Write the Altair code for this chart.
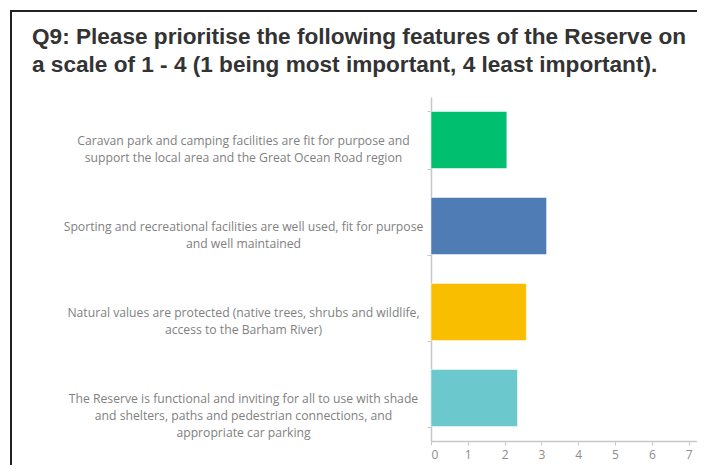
import altair as alt
import pandas as pd

categories = [
    "Caravan park and camping facilities are fit for purpose and|support the local area and the Great Ocean Road region",
    "Sporting and recreational facilities are well used, fit for purpose|and well maintained",
    "Natural values are protected (native trees, shrubs and wildlife,|access to the Barham River)",
    "The Reserve is functional and inviting for all to use with shade|and shelters, paths and pedestrian connections, and|appropriate car parking",
]
values = [2.06, 3.14, 2.59, 2.35]
colors = ["#00BF6F", "#507CB6", "#F9BE00", "#6BC8CD"]
x_ticks = [0, 1, 2, 3, 4, 5, 6, 7]
title_lines = [
    "Q9: Please prioritise the following features of the Reserve on",
    "a scale of 1 - 4 (1 being most important, 4 least important).",
]

df = pd.DataFrame({"feature": categories, "score": values, "color": colors})

PLOT_W = 266
PLOT_H = 344

bars = alt.Chart(df).mark_bar(stroke="#ffffff", strokeOpacity=0.5, strokeWidth=1).encode(
    y=alt.Y(
        "feature:N",
        sort=categories,
        scale=alt.Scale(paddingInner=0.337, paddingOuter=0.1685),
        axis=alt.Axis(
            title=None,
            labelExpr="split(datum.label, '|')",
            labelAlign="center",
            labelBaseline="middle",
            labelPadding=184,
            labelLineHeight=17,
            labelFont="Open Sans",
            labelFontSize=12.2,
            labelColor="#7f7f7f",
            labelLimit=0,
            tickBand="extent",
            tickSize=4,
            tickColor="#c8c8c8",
            domainColor="#c8c8c8",
            domainWidth=1.5,
            grid=False,
        ),
    ),
    x=alt.X(
        "score:Q",
        scale=alt.Scale(domain=[0, PLOT_W / 36.81], nice=False, zero=True),
        axis=alt.Axis(
            title=None,
            values=x_ticks,
            format="d",
            tickSize=4,
            tickColor="#c8c8c8",
            domainColor="#c8c8c8",
            domainWidth=1.5,
            labelFont="Open Sans",
            labelFontSize=12,
            labelColor="#8c8c8c",
            labelPadding=4,
            grid=False,
        ),
    ),
    color=alt.Color("color:N", scale=None),
)

border = alt.Chart(pd.DataFrame({"b": [0]})).mark_rect(
    fill=None, stroke="#222222", strokeWidth=2
).encode(
    x=alt.value(-420),
    y=alt.value(-86),
    x2=alt.value(1000),
    y2=alt.value(1000),
)

chart = alt.layer(bars, border).properties(
    width=PLOT_W,
    height=PLOT_H,
    padding={"left": 423, "top": 89, "right": 0, "bottom": 24},
    autosize=alt.AutoSizeParams(type="none"),
    title=alt.TitleParams(
        text=title_lines,
        anchor="start",
        frame="group",
        dx=-399,
        dy=70.5,
        font="Liberation Sans",
        fontSize=22.6,
        fontWeight="bold",
        color="#333333",
        lineHeight=28,
    ),
).configure(background="#ffffff", view=alt.ViewConfig(stroke=None))

chart.save("out.html", embed_options={"renderer": "svg", "actions": False})
